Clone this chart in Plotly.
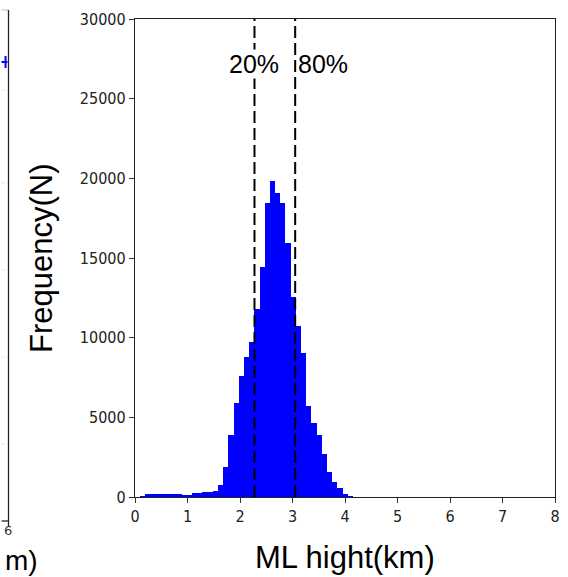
import numpy as np
import plotly.graph_objects as go

# Histogram of melting-layer height: bins of equal width starting at 0.1 km
bin_start = 0.1
bin_width = 0.0988
counts = [60, 170, 170, 170, 170, 170, 170, 170, 100, 100,
          230, 230, 300, 300, 350, 750, 1860, 3890, 5920, 7610,
          8770, 9750, 11780, 14420, 18470, 19850, 19060, 18470, 15920, 12530,
          10730, 9020, 5710, 4630, 3890, 2680, 1590, 960, 540, 170, 60]

# 20th and 80th percentile heights (km)
pct_labels = ["20%", "80%"]
pct_values = [2.276, 3.051]

x_ticks = [0, 1, 2, 3, 4, 5, 6, 7, 8]
y_ticks = [0, 5000, 10000, 15000, 20000, 25000, 30000]

centers = bin_start + bin_width * (np.arange(len(counts)) + 0.5)

tick_font = dict(family="Liberation Sans Narrow, DejaVu Sans Condensed, Arial Narrow, sans-serif",
                 size=16, color="#222")
label_font = dict(family="Liberation Sans, Arial, sans-serif", size=31, color="black")
pct_font = dict(family="Liberation Sans, Arial, sans-serif", size=25, color="black")

fig = go.Figure()
fig.add_trace(go.Bar(x=centers, y=counts, width=bin_width,
                     marker=dict(color="#0000ff", line=dict(width=0)),
                     showlegend=False))

# percentile markers
for v in pct_values:
    fig.add_shape(type="line", xref="x", yref="y", x0=v, x1=v, y0=0, y1=30000,
                  line=dict(color="black", width=2, dash="12px,5px"))

fig.add_annotation(x=pct_values[0], y=27200, xref="x", yref="y", text=pct_labels[0],
                   showarrow=False, xanchor="center", yanchor="middle",
                   font=pct_font, bgcolor="white", borderpad=0)
fig.add_annotation(x=pct_values[1], y=27200, xref="x", yref="y", text=pct_labels[1],
                   showarrow=False, xanchor="left", yanchor="middle", xshift=2,
                   font=pct_font, borderpad=0)

# axis titles
fig.add_annotation(x=0, y=0.5, xref="paper", yref="paper", text="Frequency(N)",
                   textangle=-90, showarrow=False, xanchor="center", yanchor="middle",
                   xshift=-94, font=label_font)
fig.add_annotation(x=0.5, y=0, xref="paper", yref="paper", text="ML hight(km)",
                   showarrow=False, xanchor="center", yanchor="middle",
                   yshift=-60, font=label_font)

# edge of the neighbouring panel on the left
edge = dict(xref="paper", yref="paper")
px = lambda p: (p - 135) / 425.0
py = lambda p: (497 - p) / 478.0
for gy in [90, 183, 270, 357, 444]:
    fig.add_shape(type="line", x0=px(0), x1=px(7), y0=py(gy), y1=py(gy),
                  line=dict(color="#dddddd", width=1, dash="dot"), **edge)
fig.add_shape(type="line", x0=px(0), x1=px(7), y0=py(10), y1=py(10),
              line=dict(color="#bbbbbb", width=1), **edge)
fig.add_shape(type="line", x0=px(0), x1=px(7), y0=py(521), y1=py(521),
              line=dict(color="#222", width=1.3), **edge)
fig.add_shape(type="line", x0=px(7), x1=px(7), y0=py(10), y1=py(527),
              line=dict(color="#222", width=1.3), **edge)
fig.add_shape(type="line", x0=px(0), x1=px(6), y0=py(62), y1=py(62),
              line=dict(color="#0000ff", width=2), **edge)
fig.add_shape(type="line", x0=px(4), x1=px(4), y0=py(56), y1=py(68),
              line=dict(color="#0000ff", width=2), **edge)
fig.add_annotation(x=px(6), y=py(530), xref="paper", yref="paper", text="6",
                   showarrow=False, xanchor="center", yanchor="middle",
                   font=dict(family="DejaVu Sans", size=13, color="#333"))
fig.add_annotation(x=px(1), y=py(560), xref="paper", yref="paper", text="m)",
                   showarrow=False, xanchor="left", yanchor="middle",
                   font=dict(family="Liberation Sans, Arial, sans-serif", size=28, color="black"))

axis_common = dict(showgrid=False, zeroline=False, showline=True, linecolor="#222",
                   linewidth=1.3, mirror=True, ticks="outside", ticklen=5,
                   tickcolor="#333", tickwidth=1, tickfont=tick_font)
fig.update_xaxes(range=[0, 8], tickvals=x_ticks, ticktext=[str(t) for t in x_ticks],
                 **axis_common)
fig.update_yaxes(range=[0, 30000], tickvals=y_ticks, ticktext=[str(t) for t in y_ticks],
                 **axis_common)

fig.update_layout(width=568, height=577, margin=dict(l=135, r=8, t=19, b=80),
                  plot_bgcolor="white", paper_bgcolor="white", bargap=0)

fig.write_html("out.html")
